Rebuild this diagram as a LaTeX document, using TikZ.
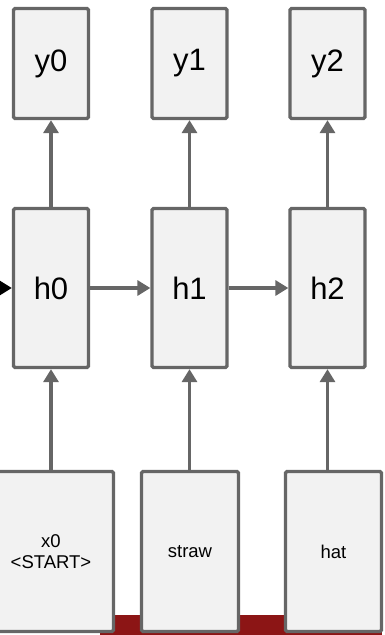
\documentclass[tikz,border=0pt]{standalone}
\usepackage{fontspec}
\setmainfont{Liberation Sans}
\usetikzlibrary{arrows.meta}
\definecolor{boxgray}{HTML}{666666}
\definecolor{boxfill}{HTML}{F2F2F2}
\definecolor{cardinal}{HTML}{8C1515}
\begin{document}
\begin{tikzpicture}[x=1pt,y=-1pt,
  cell/.style={draw=boxgray, fill=boxfill, line width=3.3pt, rounded corners=1.5pt,
    inner sep=0pt, align=center, text=black},
  ycell/.style={cell, minimum width=75pt, minimum height=110pt, font=\fontsize{31}{31}\selectfont},
  hcell/.style={cell, minimum width=75pt, minimum height=159pt, font=\fontsize{31}{31}\selectfont},
  xcell/.style={cell, minimum height=160pt, font=\fontsize{18.5}{21}\selectfont},
  conn/.style={draw=boxgray, line width=3.5pt, -{Triangle[length=13pt,width=15pt]}},
]
\useasboundingbox (0,0) rectangle (385,635);
\fill[cardinal] (100,615) rectangle (382,635);

\node[ycell] (y0) at (51,63.5) {y0};
\node[ycell] (y1) at (189.5,63.5) {y1};
\node[ycell] (y2) at (327.5,63.5) {y2};

\node[hcell] (h0) at (51,288) {h0};
\node[hcell] (h1) at (189.5,288) {h1};
\node[hcell] (h2) at (327.5,288) {h2};

\node[xcell, minimum width=125pt] (x0) at (51,551.5) {x0\\<START>};
\node[xcell, minimum width=97pt] (x1) at (190,551.5) {straw};
\node[xcell, minimum width=96pt] (x2) at (333.5,551.5) {hat};

\coordinate (in) at (-30,288);
\draw[line width=3.5pt, -{Triangle[length=13pt,width=15pt]}, black] (in) -- (h0.west);

\draw[conn] (h0) -- (h1);
\draw[conn] (h1) -- (h2);

\draw[conn] (h0) -- (y0);
\draw[conn] (h1) -- (y1);
\draw[conn] (h2) -- (y2);

\draw[conn] (x0.north -| h0) -- (h0.south);
\draw[conn] (x1.north -| h1) -- (h1.south);
\draw[conn] (x2.north -| h2) -- (h2.south);
\end{tikzpicture}
\end{document}
